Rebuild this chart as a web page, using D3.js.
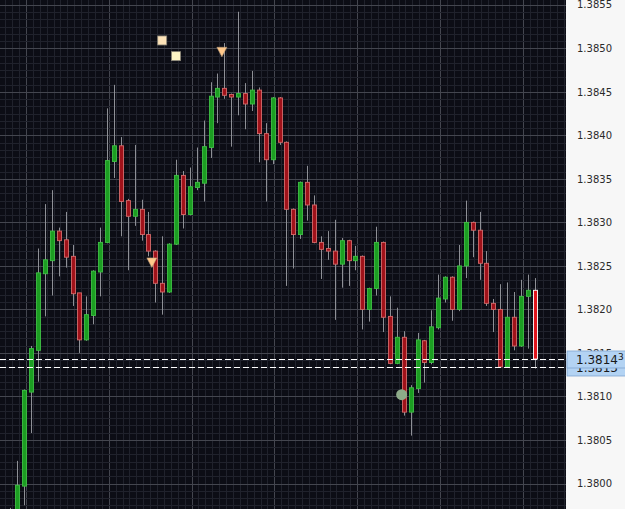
<!DOCTYPE html>
<html>
<head>
<meta charset="utf-8">
<script src="https://cdn.jsdelivr.net/npm/d3@7"></script>
<style>
  body { margin: 0; background: #f7f7f7; }
  svg { display: block; }
</style>
</head>
<body>
<div class="chart"></div>
<script>
var svgWidth = 625;
var svgHeight = 509;
var plotRight = 566;

// OHLC bars, oldest first
var open = [1.37947, 1.37964, 1.37997, 1.38105, 1.38153, 1.38241, 1.38256, 1.38290, 1.38280, 1.38261,
  1.38219, 1.38165, 1.38193, 1.38243, 1.38277, 1.38370, 1.38388, 1.38325, 1.38307, 1.38315,
  1.38286, 1.38267, 1.38230, 1.38220, 1.38275, 1.38354, 1.38309, 1.38340, 1.38345, 1.38386,
  1.38444, 1.38454, 1.38447, 1.38444, 1.38448, 1.38436, 1.38452, 1.38402, 1.38372, 1.38443,
  1.38392, 1.38315, 1.38286, 1.38346, 1.38320, 1.38277, 1.38270, 1.38267, 1.38252, 1.38279,
  1.38256, 1.38261, 1.38200, 1.38224, 1.38277, 1.38192, 1.38138, 1.38168, 1.38082, 1.38109,
  1.38164, 1.38139, 1.38179, 1.38212, 1.38237, 1.38200, 1.38250, 1.38300, 1.38291, 1.38253,
  1.38207, 1.38200, 1.38134, 1.38191, 1.38158, 1.38215, 1.38222];
var high = [1.37972, 1.38026, 1.38108, 1.38158, 1.38270, 1.38321, 1.38337, 1.38294, 1.38312, 1.38274,
  1.38219, 1.38215, 1.38245, 1.38294, 1.38431, 1.38458, 1.38398, 1.38327, 1.38389, 1.38326,
  1.38312, 1.38268, 1.38284, 1.38276, 1.38372, 1.38359, 1.38363, 1.38386, 1.38417, 1.38461,
  1.38471, 1.38506, 1.38448, 1.38542, 1.38460, 1.38474, 1.38455, 1.38414, 1.38444, 1.38444,
  1.38393, 1.38316, 1.38347, 1.38365, 1.38331, 1.38284, 1.38290, 1.38303, 1.38282, 1.38280,
  1.38273, 1.38262, 1.38225, 1.38295, 1.38278, 1.38215, 1.38202, 1.38175, 1.38113, 1.38173,
  1.38165, 1.38199, 1.38240, 1.38238, 1.38238, 1.38274, 1.38325, 1.38301, 1.38312, 1.38267,
  1.38212, 1.38229, 1.38231, 1.38220, 1.38234, 1.38240, 1.38236];
var low = [1.37935, 1.37958, 1.37975, 1.38058, 1.38117, 1.38192, 1.38216, 1.38238, 1.38248, 1.38204,
  1.38150, 1.38164, 1.38183, 1.38215, 1.38276, 1.38351, 1.38284, 1.38245, 1.38296, 1.38279,
  1.38261, 1.38208, 1.38194, 1.38219, 1.38274, 1.38293, 1.38308, 1.38337, 1.38324, 1.38374,
  1.38414, 1.38442, 1.38387, 1.38423, 1.38407, 1.38428, 1.38369, 1.38324, 1.38367, 1.38389,
  1.38227, 1.38247, 1.38281, 1.38302, 1.38276, 1.38235, 1.38257, 1.38188, 1.38225, 1.38227,
  1.38245, 1.38177, 1.38186, 1.38216, 1.38174, 1.38137, 1.38137, 1.38078, 1.38055, 1.38104,
  1.38116, 1.38137, 1.38177, 1.38208, 1.38187, 1.38198, 1.38236, 1.38260, 1.38234, 1.38204,
  1.38174, 1.38133, 1.38133, 1.38153, 1.38157, 1.38155, 1.38132];
var close = [1.37967, 1.37998, 1.38107, 1.38155, 1.38242, 1.38257, 1.38290, 1.38279, 1.38260, 1.38218,
  1.38165, 1.38194, 1.38244, 1.38277, 1.38371, 1.38388, 1.38324, 1.38307, 1.38315, 1.38286,
  1.38267, 1.38230, 1.38220, 1.38275, 1.38354, 1.38309, 1.38341, 1.38346, 1.38387, 1.38445,
  1.38454, 1.38446, 1.38444, 1.38448, 1.38436, 1.38452, 1.38402, 1.38372, 1.38443, 1.38392,
  1.38315, 1.38286, 1.38346, 1.38320, 1.38277, 1.38269, 1.38267, 1.38252, 1.38279, 1.38256,
  1.38261, 1.38200, 1.38224, 1.38277, 1.38191, 1.38138, 1.38168, 1.38082, 1.38110, 1.38165,
  1.38139, 1.38180, 1.38213, 1.38237, 1.38200, 1.38250, 1.38300, 1.38291, 1.38253, 1.38207,
  1.38200, 1.38134, 1.38191, 1.38158, 1.38215, 1.38222, 1.38143];

// price axis labels
var yTicks = [1.3800, 1.3805, 1.3810, 1.3815, 1.3820, 1.3825, 1.3830, 1.3835, 1.3840, 1.3845, 1.3850, 1.3855];

// price lines at the right edge
var bidPrice = 1.38143;
var linePrice = 1.38134;

// chart objects: bar index and price
var squareBars = [22, 24];
var squarePrices = [1.38509, 1.38491];
var squareColors = ["#fde3b8", "#fff6c6"];
var arrowBars = [30.65, 20.5];
var arrowPrices = [1.38496, 1.38254];
var dotBars = [56.7];
var dotPrices = [1.38102];

var bars = open.map(function(o, i) {
  return { i: i, open: o, high: high[i], low: low[i], close: close[i] };
});

var svg = d3.select(".chart")
  .append("svg")
  .attr("width", svgWidth)
  .attr("height", svgHeight);

var x = d3.scaleLinear().domain([0, 76]).range([10.4, 534.8]);
var y = d3.scaleLinear().domain([1.3800, 1.3850]).range([483.5, 48.3]);

// plot background
svg.append("rect")
  .attr("width", plotRight)
  .attr("height", svgHeight)
  .attr("fill", "#0c0d15");

var grid = svg.append("g");

// minor vertical grid, major every 12 bars
d3.range(-3, 82).forEach(function(k) {
  var gx = Math.round(x(k + 2.26)) + 0.5;
  if (gx > plotRight) return;
  grid.append("line")
    .attr("x1", gx).attr("x2", gx)
    .attr("y1", 0).attr("y2", svgHeight)
    .attr("stroke", k % 12 === 0 ? "#44464f" : "#20222c")
    .attr("stroke-width", 1);
});

// minor horizontal grid, major at each labelled price
d3.range(-6, 80).forEach(function(k) {
  var p = 1.3800 + k * 0.0005 / 6;
  var gy = Math.round(y(p)) + 0.5;
  if (gy < 0 || gy > svgHeight) return;
  grid.append("line")
    .attr("x1", 0).attr("x2", plotRight)
    .attr("y1", gy).attr("y2", gy)
    .attr("stroke", ((k % 6) + 6) % 6 === 0 ? "#44464f" : "#20222c")
    .attr("stroke-width", 1);
});

// candles
var candles = svg.append("g").selectAll("g")
  .data(bars)
  .enter()
  .append("g");

candles.append("line")
  .attr("x1", d => Math.round(x(d.i)) + 0.5)
  .attr("x2", d => Math.round(x(d.i)) + 0.5)
  .attr("y1", d => y(d.high))
  .attr("y2", d => y(d.low))
  .attr("stroke", "#8e9096")
  .attr("stroke-width", 1);

var lastIndex = bars.length - 1;
candles.append("rect")
  .attr("x", d => Math.round(x(d.i)) - 1.5)
  .attr("y", d => y(Math.max(d.open, d.close)))
  .attr("width", 4)
  .attr("height", d => Math.max(1.5, Math.abs(y(d.open) - y(d.close))))
  .attr("fill", function(d) {
    if (d.i === lastIndex) return "#e0141c";
    return d.close >= d.open ? "#1c9e22" : "#a0121a";
  })
  .attr("stroke", function(d) {
    if (d.i === lastIndex) return "#ffffff";
    return d.close >= d.open ? "#3fbf45" : "#d46a6a";
  })
  .attr("stroke-width", 0.9);

// objects
svg.append("g").selectAll("rect")
  .data(squareBars)
  .enter()
  .append("rect")
  .attr("x", (d, i) => x(d) - 4.5)
  .attr("y", (d, i) => y(squarePrices[i]) - 4.5)
  .attr("width", 9)
  .attr("height", 9)
  .attr("fill", (d, i) => squareColors[i])
  .attr("stroke", "#8a8578")
  .attr("stroke-width", 0.8);

svg.append("g").selectAll("path")
  .data(arrowBars)
  .enter()
  .append("path")
  .attr("transform", (d, i) => `translate(${x(d)}, ${y(arrowPrices[i])})`)
  .attr("d", "M-5,-4.5 L5,-4.5 L0,5 Z")
  .attr("fill", "#ffc88a")
  .attr("stroke", "#b89a78")
  .attr("stroke-width", 0.6);

svg.append("g").selectAll("circle")
  .data(dotBars)
  .enter()
  .append("circle")
  .attr("cx", d => x(d))
  .attr("cy", (d, i) => y(dotPrices[i]))
  .attr("r", 5.5)
  .attr("fill", "#8dab89");

// dashed price lines
[bidPrice, linePrice].forEach(function(p) {
  svg.append("line")
    .attr("x1", 0).attr("x2", plotRight + 2)
    .attr("y1", Math.round(y(p)) + 0.5)
    .attr("y2", Math.round(y(p)) + 0.5)
    .attr("stroke", "#ffffff")
    .attr("stroke-width", 1)
    .attr("stroke-dasharray", "6,3");
});

// right price scale
svg.append("rect")
  .attr("x", plotRight)
  .attr("width", svgWidth - plotRight)
  .attr("height", svgHeight)
  .attr("fill", "#f7f7f7");

var yAxis = d3.axisRight(y)
  .tickValues(yTicks)
  .tickFormat(d3.format(".4f"))
  .tickSize(0)
  .tickPadding(11);

var axisG = svg.append("g")
  .attr("transform", `translate(${plotRight}, 0)`)
  .call(yAxis);
axisG.select(".domain").remove();
axisG.selectAll("text")
  .attr("fill", "#2a2a2a")
  .style("font-family", "DejaVu Sans, sans-serif")
  .style("font-size", "10px");

// price tags
function priceTag(p) {
  var full = p.toFixed(5);
  var g = svg.append("g")
    .attr("transform", `translate(${plotRight + 1}, ${Math.round(y(p))})`);
  g.append("rect")
    .attr("x", 0).attr("y", -8)
    .attr("width", svgWidth - plotRight)
    .attr("height", 17)
    .attr("fill", "#b3d3f3")
    .attr("stroke", "#7fa6cf")
    .attr("stroke-width", 0.8);
  var t = g.append("text")
    .attr("x", 9).attr("y", 4.5)
    .attr("fill", "#1a1a1a")
    .style("font-family", "DejaVu Sans, sans-serif")
    .style("font-size", "12px");
  t.append("tspan").text(full.slice(0, 6));
  t.append("tspan")
    .attr("dy", -4)
    .style("font-size", "9px")
    .text(full.slice(6));
}
priceTag(linePrice);
priceTag(bidPrice);
</script>
</body>
</html>
